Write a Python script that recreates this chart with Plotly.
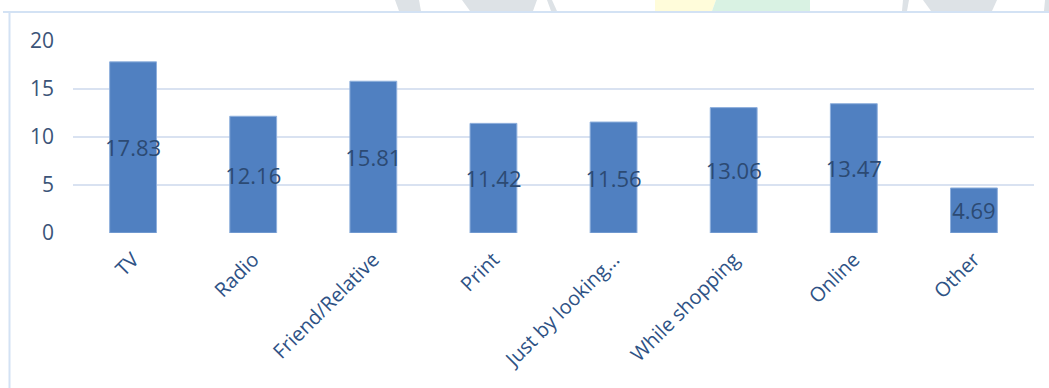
import plotly.graph_objects as go

# Survey data: where respondents first heard about the product (%)
categories = ["TV", "Radio", "Friend/Relative", "Print", "Just by looking…",
              "While shopping", "Online", "Other"]
values = [17.83, 12.16, 15.81, 11.42, 11.56, 13.06, 13.47, 4.69]
y_ticks = [0, 5, 10, 15, 20]

W, H = 1049, 388
M_L, M_R, M_T, M_B = 73, 15, 41, 155
PW, PH = W - M_L - M_R, H - M_T - M_B


def px_x(px):
    return (px - M_L) / PW


def px_y(py):
    return (H - M_B - py) / PH


fig = go.Figure()
fig.add_trace(go.Bar(
    x=categories,
    y=values,
    marker=dict(color="#5080c1", line=dict(color="#8fb0dd", width=1)),
    text=values,
    texttemplate="%{y:.2f}",
    textposition="inside",
    insidetextanchor="middle",
    textangle=0,
    constraintext="none",
    textfont=dict(family="Open Sans", size=22, color="#2c4a73"),
    hoverinfo="x+y",
))

# faint decorative banner shapes along the top edge
banner = [
    ("#dde2e6", [(395, 0), (419, 0), (421, 11), (399, 11)]),
    ("#dde2e6", [(462, 0), (537, 0), (533, 11), (470, 11)]),
    ("#dde2e6", [(547, 0), (552, 0), (557, 11), (551, 11)]),
    ("#fffcda", [(655, 0), (716, 0), (712, 11), (655, 11)]),
    ("#d9f2e3", [(716, 0), (810, 0), (810, 11), (712, 11)]),
    ("#dde2e6", [(903, 0), (909, 0), (907, 11), (902, 11)]),
    ("#dde2e6", [(923, 0), (997, 0), (992, 11), (931, 11)]),
    ("#dde2e6", [(1045, 0), (1049, 0), (1049, 11), (1044, 11)]),
]
shapes = []
for col, pts in banner:
    path = "M " + " L ".join(f"{px_x(a):.5f},{px_y(b):.5f}" for a, b in pts) + " Z"
    shapes.append(dict(type="path", xref="paper", yref="paper", path=path,
                       fillcolor=col, line=dict(width=0), layer="below"))

# chart frame (top and left edges visible)
shapes.append(dict(type="rect", xref="paper", yref="paper",
                   x0=px_x(9.5), x1=px_x(W + 20), y0=px_y(H + 20), y1=px_y(12),
                   line=dict(color="#d3e2f4", width=2), fillcolor="rgba(0,0,0,0)",
                   layer="below"))
shapes.append(dict(type="line", xref="paper", yref="paper",
                   x0=px_x(3), x1=px_x(W + 20), y0=px_y(12), y1=px_y(12),
                   line=dict(color="#d3e2f4", width=2), layer="below"))

fig.update_layout(
    width=W, height=H,
    margin=dict(l=M_L, r=M_R, t=M_T, b=M_B, pad=0),
    paper_bgcolor="white", plot_bgcolor="white",
    bargap=0.61,
    showlegend=False,
    shapes=shapes,
    font=dict(family="Open Sans"),
)
fig.update_xaxes(
    type="category",
    range=[-0.5, len(categories) - 0.5],
    tickangle=-45,
    tickfont=dict(family="Open Sans", size=20, color="#2e5285"),
    ticklabelstandoff=10,
    showgrid=False, showline=False, ticks="",
)
fig.update_yaxes(
    range=[0, 20],
    tickvals=y_ticks,
    tickfont=dict(family="Open Sans", size=21, color="#3b5478"),
    ticklabelstandoff=18,
    showgrid=True, gridcolor="#d9e2f1", gridwidth=1.5,
    zeroline=False, showline=False, ticks="",
)

fig.write_html("out.html")
